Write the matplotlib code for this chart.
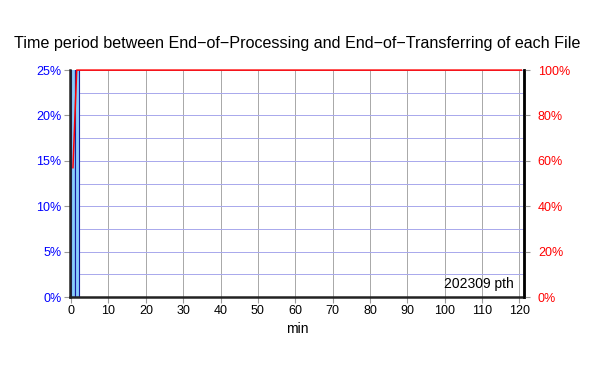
import matplotlib.pyplot as plt
import numpy as np

plt.rcParams["font.family"] = ["Liberation Sans", "DejaVu Sans"]

# share of files per 1-minute bin (percent), bins starting at 0 min
bin_starts = [0, 1]
bin_share = [57.0, 43.0]

# cumulative share (percent) at bin centres
cum_minutes = [0.5, 1.5, 2.5, 120.5]
cum_share = [57.0, 100.0, 100.0, 100.0]

left_ticks = [0, 5, 10, 15, 20, 25]
right_ticks = [0, 20, 40, 60, 80, 100]
x_ticks = list(range(0, 121, 10))

TITLE = "Time period between End\u2212of\u2212Processing and End\u2212of\u2212Transferring of each File"

fig = plt.figure(figsize=(5.94, 3.69), dpi=100)
ax = fig.add_axes([0.1178, 0.195, 0.7643, 0.615])

ax.bar(bin_starts, bin_share, width=1, align="edge",
       color="#87cefa", edgecolor="#1a1aa0", linewidth=0.8, zorder=2)

ax.set_xlim(-0.3, 121.2)
ax.set_ylim(0, 25)
ax.set_xticks(x_ticks)
ax.set_yticks(left_ticks)
ax.set_yticklabels([f"{v}%" for v in left_ticks], color="blue")
ax.set_yticks(np.arange(0, 25.01, 2.5), minor=True)
ax.tick_params(axis="y", which="minor", length=0)
ax.tick_params(axis="both", which="major", labelsize=9, length=4,
               color="#999999", pad=2)

ax.grid(axis="y", which="both", color="#a8a8ec", linewidth=0.7, zorder=0)
ax.grid(axis="x", which="major", color="#a8a8a8", linewidth=0.7, zorder=0)
ax.set_axisbelow(True)

for side in ["left", "bottom", "right"]:
    ax.spines[side].set_linewidth(1.8)
    ax.spines[side].set_color("#222222")
ax.spines["top"].set_visible(False)

ax.set_xlabel("min", fontsize=10, labelpad=3)
ax.set_title(TITLE, fontsize=11.6, pad=16)

ax2 = ax.twinx()
ax2.plot(cum_minutes, cum_share, color="red", linewidth=1.1, zorder=3, clip_on=False)
ax2.set_ylim(0, 100)
ax2.set_yticks(right_ticks)
ax2.set_yticklabels([f"{v}%" for v in right_ticks], color="red")
ax2.tick_params(axis="y", labelsize=9, length=4, color="#999999", pad=6)
for side in ["left", "bottom", "top"]:
    ax2.spines[side].set_visible(False)
ax2.spines["right"].set_linewidth(1.8)
ax2.spines["right"].set_color("black")
ax2.set_xlim(-0.3, 121.2)

ax.text(0.978, 0.025, "202309 pth", transform=ax.transAxes,
        ha="right", va="bottom", fontsize=10)

fig.savefig("out.png", dpi=100)
